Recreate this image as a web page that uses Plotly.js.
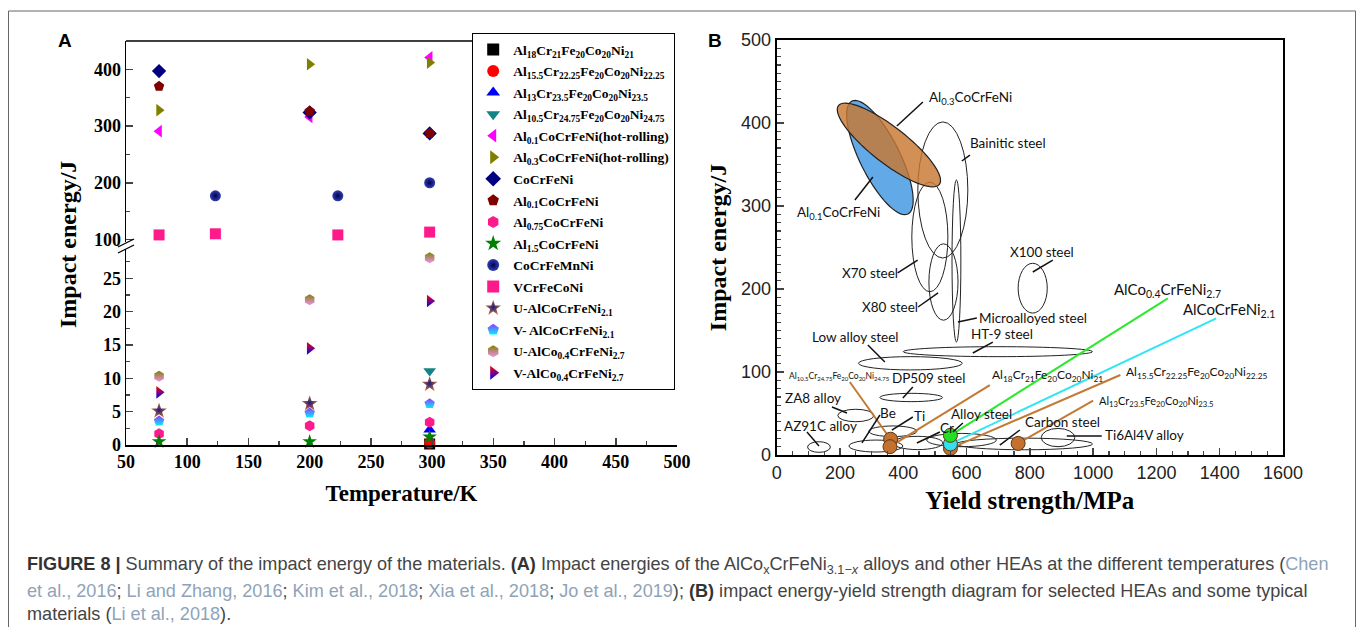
<!DOCTYPE html>
<html><head><meta charset="utf-8">
<script src="https://cdn.plot.ly/plotly-3.0.1.min.js"></script>
<style>html,body{margin:0;padding:0;background:#fff}#chart{width:1357px;height:627px}</style>
</head><body><div id="chart"></div>
<script>
// ---------------- Panel A data ----------------
const nameAl18 = 'Al<sub>18</sub>Cr<sub>21</sub>Fe<sub>20</sub>Co<sub>20</sub>Ni<sub>21</sub>';
const nameAl155 = 'Al<sub>15.5</sub>Cr<sub>22.25</sub>Fe<sub>20</sub>Co<sub>20</sub>Ni<sub>22.25</sub>';
const nameAl13 = 'Al<sub>13</sub>Cr<sub>23.5</sub>Fe<sub>20</sub>Co<sub>20</sub>Ni<sub>23.5</sub>';
const nameAl105 = 'Al<sub>10.5</sub>Cr<sub>24.75</sub>Fe<sub>20</sub>Co<sub>20</sub>Ni<sub>24.75</sub>';

const tAl18 = [298], eAl18 = [0.15];
const tAl155 = [298], eAl155 = [0.3];
const tAl13 = [298], eAl13 = [2.3];
const tAl105 = [298], eAl105 = [11.1];
const tAl01HR = [77, 200, 298], eAl01HR = [291, 316, 421];
const tAl03HR = [77, 200, 298], eAl03HR = [328, 409, 412];
const tCoCrFeNi = [77, 200, 298], eCoCrFeNi = [397, 324, 287];
const tAl01 = [77, 200, 298], eAl01 = [370, 326, 287];
const tAl075 = [77, 200, 298], eAl075 = [1.7, 2.9, 3.4];
const tAl15 = [77, 200, 298], eAl15 = [0.5, 0.5, 1.2];
const tMn = [123, 223, 298], eMn = [177, 177, 200];
const tV = [77, 123, 223, 298], eV = [108, 110, 108, 113];
const tUAl21 = [77, 200, 298], eUAl21 = [5.1, 6.2, 9.1];
const tVAl21 = [77, 200, 298], eVAl21 = [3.6, 4.8, 6.2];
const tUAl27 = [77, 200, 298], eUAl27 = [10.3, 21.8, 28.1];
const tVAl27 = [77, 200, 298], eVAl27 = [7.9, 14.5, 21.6];

// ---------------- Panel B data ----------------
// HEA points (yield strength MPa, impact energy J)
const hOrangeX = [360, 358, 549, 763], hOrangeY = [19, 10, 8, 14];
const hGreenX = [549], hGreenY = [23.7];
const hCyanX = [549], hCyanY = [13.3];
// label leader lines from HEA points
const lnGreenX = [549, 1236], lnGreenY = [23.7, 188.8];
const lnCyanX = [549, 1389], lnCyanY = [13.3, 164.7];
const lnAl155X = [549, 1086], lnAl155Y = [8, 96.4];
const lnAl13X = [763, 1000], lnAl13Y = [14, 65.4];
const lnAl18X = [358, 673.5], lnAl18Y = [10, 84.3];
const lnAl105X = [360, 231], lnAl105Y = [19, 88];

// material property ellipses (center x, center y, half-width x, half-height y)
const ellNames = ['Bainitic steel','X70 steel','X80 steel','Microalloyed steel','X100 steel','HT-9 steel','Low alloy steel','DP509 steel','ZA8 alloy','AZ91C alloy','Be','Ti','Cr','Alloy steel','Carbon steel','Ti6Al4V alloy'];
const ellCX = [525, 484, 527, 568, 809, 699, 422.5, 425, 250, 133.6, 313.5, 367, 446, 584, 783, 889];
const ellCY = [319.3, 262.7, 208.4, 233.7, 201, 124.5, 110.5, 69.3, 47.6, 9.6, 10.8, 28.6, 14.5, 18, 13.3, 21];
const ellRX = [79, 57, 46, 14, 46, 299, 164, 99, 57, 36, 85, 76, 79, 110, 215, 53];
const ellRY = [82, 66, 46, 97.6, 30, 6, 8, 5, 7.5, 6.4, 7.2, 6.4, 8, 8, 7, 11];
// tilted HEA ellipses: center (data), semi-axes (screen px), tilt (deg, clockwise)
const tiltNames = ['Al0.1CoCrFeNi', 'Al0.3CoCrFeNi'];
const tiltCX = [326.2, 354.6], tiltCY = [358.4, 373.5];
const tiltA = [63, 64], tiltB = [20, 18], tiltAng = [63.6, 38];
const tiltFill = ['rgba(90,165,230,0.95)', 'rgba(200,120,50,0.82)'];

// ---------------- Layout helpers ----------------
const W = 1357, H = 627;
const fx = p => p / W, fy = p => 1 - p / H;
const serifB = {family: 'Liberation Serif, Times New Roman, serif', weight: 'bold', color: '#000'};
const sans = 'Lato, Liberation Sans, Arial, sans-serif';

const A_dom = [fx(126), fx(677)];
const B_xdom = [fx(776.7), fx(1283)], B_ydom = [fy(455), fy(40)];

let gi = 0;
function mk(name, x, y, sym, color, yax, extra) {
  const m = Object.assign({symbol: sym, size: 11, color: color, line: {width: 0}}, extra || {});
  gi++;
  return {type: 'scatter', mode: 'markers', name: name, legendgroup: 'g' + gi, x: x, y: y, xaxis: 'x', yaxis: yax, marker: m, cliponaxis: false};
}
const traces = [
  mk(nameAl18, tAl18, eAl18, 'square', '#000000', 'y'),
  mk(nameAl155, tAl155, eAl155, 'circle', '#ff0000', 'y'),
  mk(nameAl13, tAl13, eAl13, 'triangle-up', '#0000ff', 'y'),
  mk(nameAl105, tAl105, eAl105, 'triangle-down', '#138383', 'y'),
  mk('Al<sub>0.1</sub>CoCrFeNi(hot-rolling)', tAl01HR, eAl01HR, 'triangle-left', '#ff00ff', 'y2'),
  mk('Al<sub>0.3</sub>CoCrFeNi(hot-rolling)', tAl03HR, eAl03HR, 'triangle-right', '#808000', 'y2'),
  mk('CoCrFeNi', tCoCrFeNi, eCoCrFeNi, 'diamond', '#000080', 'y2'),
  mk('Al<sub>0.1</sub>CoCrFeNi', tAl01, eAl01, 'pentagon', '#800000', 'y2'),
  mk('Al<sub>0.75</sub>CoCrFeNi', tAl075, eAl075, 'hexagon', '#ff1a8c', 'y'),
  mk('Al<sub>1.5</sub>CoCrFeNi', tAl15, eAl15, 'star', '#008000', 'y'),
  mk('CoCrFeMnNi', tMn, eMn, 'circle', '#3040b0', 'y2', {gradient: {type: 'radial', color: '#000050'}}),
  mk('VCrFeCoNi', tV, eV, 'square', '#ff1a8c', 'y2'),
  mk('U-AlCoCrFeNi<sub>2.1</sub>', tUAl21, eUAl21, 'star', '#d07030', 'y', {size: 12, gradient: {type: 'radial', color: '#1a1a80'}}),
  mk('V- AlCoCrFeNi<sub>2.1</sub>', tVAl21, eVAl21, 'pentagon', '#9933ff', 'y', {gradient: {type: 'vertical', color: '#00f0ff'}}),
  mk('U-AlCo<sub>0.4</sub>CrFeNi<sub>2.7</sub>', tUAl27, eUAl27, 'hexagon', '#808000', 'y', {gradient: {type: 'vertical', color: '#f090f0'}}),
  mk('V-AlCo<sub>0.4</sub>CrFeNi<sub>2.7</sub>', tVAl27, eVAl27, 'triangle-right', '#ff0000', 'y', {gradient: {type: 'vertical', color: '#0000ff'}})
];

// Panel B traces
function ln(x, y, color) {
  return {type: 'scatter', mode: 'lines', x: x, y: y, xaxis: 'x2', yaxis: 'y3', showlegend: false,
          line: {color: color, width: 2}, hoverinfo: 'skip'};
}
const orangeC = '#c27a35';
traces.push(ln(lnGreenX, lnGreenY, '#2ee82e'));
traces.push(ln(lnCyanX, lnCyanY, '#2fe6f2'));
traces.push(ln(lnAl155X, lnAl155Y, orangeC));
traces.push(ln(lnAl13X, lnAl13Y, orangeC));
traces.push(ln(lnAl18X, lnAl18Y, orangeC));
traces.push(ln(lnAl105X, lnAl105Y, orangeC));
function pts(x, y, color) {
  return {type: 'scatter', mode: 'markers', x: x, y: y, xaxis: 'x2', yaxis: 'y3', showlegend: false,
          marker: {symbol: 'circle', size: 14, color: color, line: {color: '#5a3a1a', width: 1}}, hoverinfo: 'skip'};
}
traces.push(pts(hOrangeX, hOrangeY, '#c4702e'));
traces.push(pts(hCyanX, hCyanY, '#33e0f0'));
traces.push(pts(hGreenX, hGreenY, '#22e022'));

// ---------------- Shapes ----------------
const shapes = [];
// figure frame
shapes.push({type: 'rect', xref: 'paper', yref: 'paper', x0: fx(8.5), x1: fx(1355.5), y0: -0.1, y1: fy(11), line: {color: '#666', width: 1}});
// panel A top frame line (runs to the legend box)
shapes.push({type: 'line', xref: 'paper', yref: 'paper', x0: A_dom[0], x1: fx(474), y0: fy(41), y1: fy(41), line: {color: '#000', width: 1.5}});
// axis break marks
shapes.push({type: 'rect', xref: 'paper', yref: 'paper', x0: fx(124), x1: fx(128), y0: fy(249), y1: fy(242), fillcolor: '#fff', line: {width: 0}});
shapes.push({type: 'line', xref: 'paper', yref: 'paper', x0: fx(118), x1: fx(134), y0: fy(253), y1: fy(245), line: {color: '#000', width: 1.3}});
shapes.push({type: 'line', xref: 'paper', yref: 'paper', x0: fx(118), x1: fx(134), y0: fy(247), y1: fy(239), line: {color: '#000', width: 1.3}});

// B: axis aligned ellipses
for (let i = 0; i < ellCX.length; i++) {
  shapes.push({type: 'circle', xref: 'x2', yref: 'y3', layer: 'below',
    x0: ellCX[i] - ellRX[i], x1: ellCX[i] + ellRX[i], y0: ellCY[i] - ellRY[i], y1: ellCY[i] + ellRY[i],
    line: {color: '#222', width: 1}, fillcolor: 'rgba(0,0,0,0)'});
}
// B: tilted ellipses
const kx = (B_xdom[1] - B_xdom[0]) * W / 1600, ky = (B_ydom[1] - B_ydom[0]) * H / 500;
for (let i = 0; i < tiltCX.length; i++) {
  const th = tiltAng[i] * Math.PI / 180;
  let d = '';
  for (let k = 0; k <= 72; k++) {
    const t = k / 72 * 2 * Math.PI;
    const dx = tiltA[i] * Math.cos(t) * Math.cos(th) - tiltB[i] * Math.sin(t) * Math.sin(th);
    const dy = tiltA[i] * Math.cos(t) * Math.sin(th) + tiltB[i] * Math.sin(t) * Math.cos(th);
    const X = tiltCX[i] + dx / kx, Y = tiltCY[i] - dy / ky;
    d += (k === 0 ? 'M' : 'L') + X.toFixed(2) + ',' + Y.toFixed(2);
  }
  d += 'Z';
  shapes.push({type: 'path', xref: 'x2', yref: 'y3', path: d, fillcolor: tiltFill[i], line: {color: '#222', width: 1.2}, layer: 'above'});
}
// B: label leader lines [x0,y0,x1,y1] in data units
const leaders = [
  [462, 425.3, 379.8, 396.4], [585, 354.2, 610.5, 361.4], [247.1, 307.2, 304, 334.9],
  [382.3, 219.3, 445.5, 234.9], [446.8, 178.3, 510, 195.2], [809.3, 220.5, 872.5, 234.9],
  [572.5, 160.2, 632.5, 165], [619.8, 122.9, 683, 136.1], [288, 132.5, 341.7, 112],
  [430.2, 81.9, 398.6, 68.7], [174.6, 57.8, 222, 50.6], [326.2, 48.2, 269.4, 14.5],
  [430.2, 45.8, 363.9, 30.1], [588.3, 38.6, 556.7, 27.7], [515.6, 27.7, 443, 14.5],
  [95.6, 27.7, 133.6, 10.8], [768.2, 30.1, 705.1, 12], [916.6, 22.9, 1027.2, 22.9]
];
leaders.forEach(l => shapes.push({type: 'line', xref: 'x2', yref: 'y3', x0: l[0], y0: l[1], x1: l[2], y1: l[3], line: {color: '#111', width: 1.5}, layer: 'above'}));

// ---------------- Annotations ----------------
const ann = [];
ann.push({xref: 'paper', yref: 'paper', x: fx(56), y: fy(40), xanchor: 'left', yanchor: 'middle', showarrow: false, text: '<b>A</b>', font: {family: 'Liberation Sans, Arial', size: 19, color: '#000'}});
ann.push({xref: 'paper', yref: 'paper', x: fx(706), y: fy(40), xanchor: 'left', yanchor: 'middle', showarrow: false, text: '<b>B</b>', font: {family: 'Liberation Sans, Arial', size: 19, color: '#000'}});
ann.push({xref: 'paper', yref: 'paper', x: fx(68), y: fy(245), xanchor: 'center', yanchor: 'middle', showarrow: false, textangle: -90, text: 'Impact energy/J', font: Object.assign({size: 24}, serifB)});

// B labels: [text, x, y, size]
const bLabels = [
  ['Al<sub>0.3</sub>CoCrFeNi', 474.6, 430.1, 13.5], ['Bainitic steel', 604, 375.9, 13.5],
  ['Al<sub>0.1</sub>CoCrFeNi', 57.8, 291.6, 13.5], ['X70 steel', 199.9, 219.3, 13.5],
  ['X80 steel', 262.9, 178.3, 13.5], ['X100 steel', 730.2, 244.6, 13.5],
  ['Microalloyed steel', 632.5, 165, 13.5], ['HT-9 steel', 607.2, 145.8, 13.5],
  ['Low alloy steel', 105.1, 142.2, 13.5], ['DP509 steel', 357.6, 92.8, 13.5],
  [nameAl105, 32.5, 94, 8.5], [nameAl18, 673.5, 95.2, 12],
  ['ZA8 alloy', 19.9, 68.7, 13.5], ['Be', 320.5, 50.6, 13.5], ['Ti', 427.2, 47, 13.5],
  ['Alloy steel', 544, 49.4, 13.5], ['Cr', 509.2, 32.5, 13.5], ['AZ91C alloy', 16.7, 34.9, 13.5],
  ['Carbon steel', 777.7, 39.8, 13.5], ['Ti6Al4V alloy', 1030.3, 24.1, 13.5],
  ['AlCo<sub>0.4</sub>CrFeNi<sub>2.7</sub>', 1058.7, 198.8, 15], ['AlCoCrFeNi<sub>2.1</sub>', 1276.6, 174.7, 15],
  [nameAl155, 1096.7, 100, 12], [nameAl13, 1011.4, 63.9, 11]
];
bLabels.forEach(b => ann.push({xref: 'x2', yref: 'y3', x: b[1], y: b[2], xanchor: 'left', yanchor: 'middle', showarrow: false, text: b[0], font: {family: sans, size: b[3], color: '#111'}}));

// caption
const cit = s => "<span style='color:#8fa3b8'>" + s + "</span>";
const capFont = {family: 'Liberation Sans, Arial, sans-serif', size: 18.1, color: '#444'};
const capLines = [
  "<b style='color:#333'>FIGURE 8 |</b> Summary of the impact energy of the materials. <b style='color:#333'>(A)</b> Impact energies of the AlCo<sub>x</sub>CrFeNi<sub>3.1−<i>x</i></sub> alloys and other HEAs at the different temperatures (" + cit('Chen'),
  cit('et al., 2016') + '; ' + cit('Li and Zhang, 2016') + '; ' + cit('Kim et al., 2018') + '; ' + cit('Xia et al., 2018') + '; ' + cit('Jo et al., 2019') + "); <b style='color:#333'>(B)</b> impact energy-yield strength diagram for selected HEAs and some typical",
  'materials (' + cit('Li et al., 2018') + ').'
];
const capY = [565, 591, 614];
capLines.forEach((t, i) => ann.push({xref: 'paper', yref: 'paper', x: fx(25), y: fy(capY[i]), xanchor: 'left', yanchor: 'middle', showarrow: false, text: t, font: capFont}));

const tickSerif = Object.assign({size: 18}, serifB);
const layout = {
  width: W, height: H, margin: {l: 0, r: 0, t: 0, b: 0},
  paper_bgcolor: '#fff', plot_bgcolor: 'rgba(0,0,0,0)', showlegend: true,
  legend: {x: fx(472), y: fy(33), xanchor: 'left', yanchor: 'top', bgcolor: '#fff', bordercolor: '#000', borderwidth: 1.2,
           font: {family: 'Liberation Serif, Times New Roman, serif', size: 13.5, weight: 'bold', color: '#000'}, itemsizing: 'constant', tracegroupgap: 1},
  xaxis: {domain: A_dom, anchor: 'y', range: [50, 500], tick0: 50, dtick: 50, ticks: 'inside', ticklen: 7, tickwidth: 1.5,
          minor: {dtick: 25, tick0: 50, ticks: 'inside', ticklen: 4, tickwidth: 1.2},
          showline: true, linewidth: 1.5, linecolor: '#000', showgrid: false, zeroline: false, tickfont: tickSerif,
          title: {text: 'Temperature/K', font: Object.assign({size: 23}, serifB), standoff: 14}},
  yaxis: {domain: [fy(445), fy(247)], anchor: 'x', range: [0, 29.7], tick0: 0, dtick: 5, ticks: 'inside', ticklen: 7, tickwidth: 1.5,
          minor: {dtick: 2.5, tick0: 0, ticks: 'inside', ticklen: 4, tickwidth: 1.2},
          showline: true, linewidth: 1.5, linecolor: '#000', showgrid: false, zeroline: false, tickfont: tickSerif},
  yaxis2: {domain: [fy(247), fy(41)], anchor: 'x', range: [86.7, 450], tick0: 0, dtick: 100, ticks: 'inside', ticklen: 7, tickwidth: 1.5,
          minor: {dtick: 50, tick0: 0, ticks: 'inside', ticklen: 4, tickwidth: 1.2},
          showline: true, linewidth: 1.5, linecolor: '#000', showgrid: false, zeroline: false, tickfont: tickSerif},
  xaxis2: {domain: B_xdom, anchor: 'y3', range: [0, 1600], tick0: 0, dtick: 200, ticks: 'inside', ticklen: 7, tickwidth: 1.5,
          minor: {dtick: 50, tick0: 0, ticks: 'inside', ticklen: 4, tickwidth: 1.2},
          showline: true, mirror: true, linewidth: 2, linecolor: '#000', showgrid: false, zeroline: false,
          tickfont: {family: 'Liberation Sans, Arial', size: 18, color: '#222'},
          title: {text: 'Yield strength/MPa', font: Object.assign({size: 25}, serifB), standoff: 10}},
  yaxis3: {domain: B_ydom, anchor: 'x2', range: [0, 500], tick0: 0, dtick: 100, ticks: 'inside', ticklen: 7, tickwidth: 1.5,
          minor: {dtick: 10, tick0: 0, ticks: 'inside', ticklen: 4, tickwidth: 1.2},
          showline: true, mirror: true, linewidth: 2, linecolor: '#000', showgrid: false, zeroline: false,
          tickfont: {family: 'Liberation Sans, Arial', size: 18, color: '#222'},
          title: {text: 'Impact energy/J', font: Object.assign({size: 24}, serifB), standoff: 8}},
  shapes: shapes, annotations: ann
};
Plotly.newPlot('chart', traces, layout, {staticPlot: true, displayModeBar: false});
</script>
</body></html>
